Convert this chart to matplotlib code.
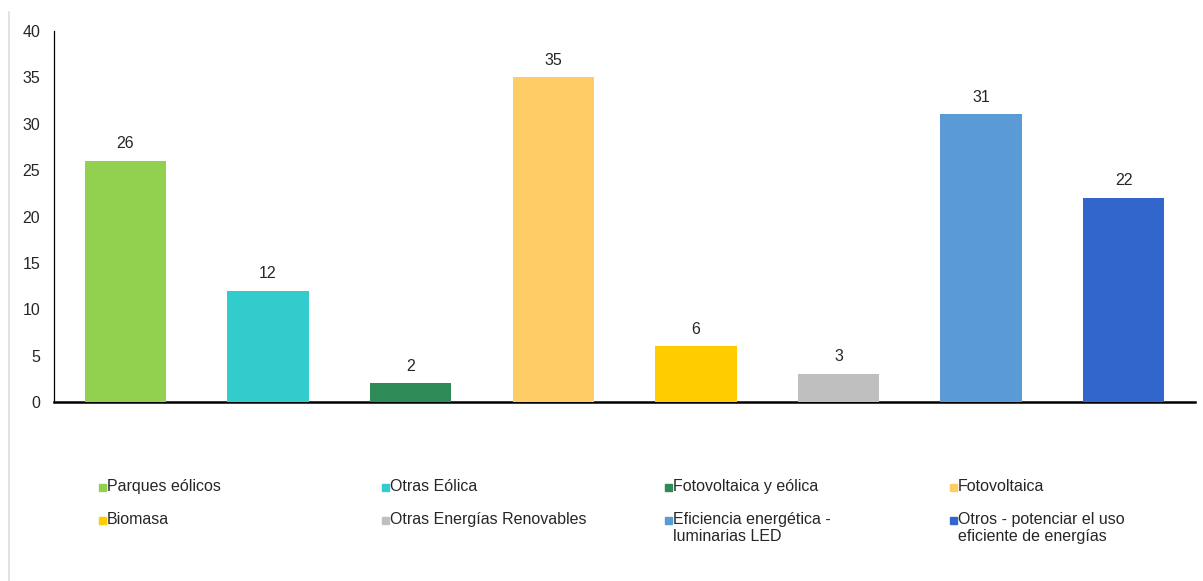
import matplotlib
matplotlib.use('Agg')
import matplotlib.pyplot as plt
from matplotlib.patches import Rectangle
from matplotlib.lines import Line2D

plt.rcParams['font.family'] = ['Liberation Sans', 'DejaVu Sans']

# ---- Data ----
categories = [
    'Parques eólicos',
    'Otras Eólica',
    'Fotovoltaica y eólica',
    'Fotovoltaica',
    'Biomasa',
    'Otras Energías Renovables',
    'Eficiencia energética -\nluminarias LED',
    'Otros - potenciar el uso\neficiente de energías',
]
values = [26, 12, 2, 35, 6, 3, 31, 22]
colors = ['#92D050', '#33CCCC', '#2E8B57', '#FFCC66',
          '#FFCC00', '#BFBFBF', '#5B9BD5', '#3366CC']
yticks = [0, 5, 10, 15, 20, 25, 30, 35, 40]

INK = '#262626'
FS = 11.5

fig = plt.figure(figsize=(12.03, 5.81), dpi=100)
fig.patch.set_facecolor('white')
ax = fig.add_axes([0.0449, 0.3081, 0.9485, 0.6385])

x = list(range(len(values)))
bars = ax.bar(x, values, width=0.57, color=colors, zorder=3)
for bar, v in zip(bars, values):
    ax.annotate(f'{v}', (bar.get_x() + bar.get_width() / 2, v),
                xytext=(0, 7), textcoords='offset points',
                ha='center', va='bottom', fontsize=FS, color=INK)

ax.set_xlim(-0.5, len(values) - 0.5)
ax.set_ylim(0, 40)
ax.set_yticks(yticks)
ax.set_xticks([])
ax.tick_params(axis='y', length=0, pad=10, labelsize=FS, labelcolor=INK)
ax.spines[['top', 'right']].set_visible(False)
ax.spines['left'].set_color('black')
ax.spines['left'].set_linewidth(0.9)
ax.spines['bottom'].set_color('black')
ax.spines['bottom'].set_linewidth(1.8)

# ---- Legend: 4 columns, 2 rows, filled row by row ----
col_x = [102, 385, 668, 953]
row_y = [487, 520]
W, H = 1203, 581
for i, (lab, c) in enumerate(zip(categories, colors)):
    px = col_x[i % 4]
    py = row_y[i // 4]
    fig.patches.append(Rectangle(((px - 3.5) / W, 1 - (py + 3.5) / H),
                                 7 / W, 7 / H, color=c,
                                 transform=fig.transFigure, figure=fig))
    fig.text((px + 5) / W, 1 - (py - 8) / H, lab, ha='left', va='top',
             fontsize=FS, color=INK, linespacing=1.15)

# thin frame line on the left edge
fig.add_artist(Line2D([9 / W, 9 / W], [0, 1 - 12 / H],
                      color='#DDDDDD', linewidth=1.2,
                      transform=fig.transFigure))

fig.savefig('out.png', dpi=100, facecolor='white')
